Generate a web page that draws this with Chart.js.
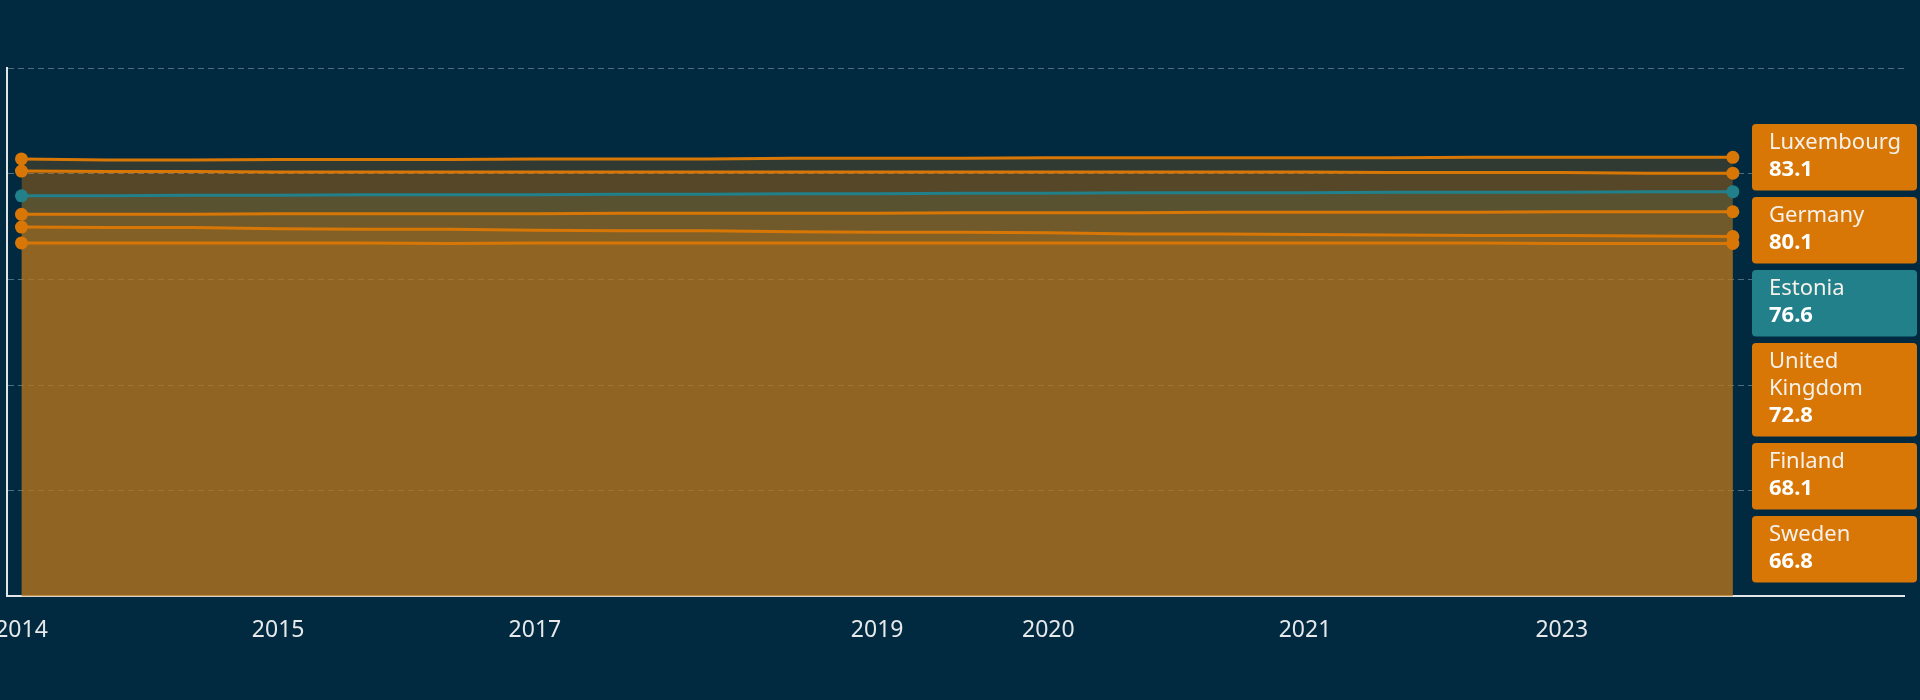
<!DOCTYPE html>
<html>
<head>
<meta charset="utf-8">
<script src="https://cdn.jsdelivr.net/npm/chart.js@4.4.1/dist/chart.umd.min.js"></script>
<style>
  html, body { margin: 0; padding: 0; background: #012a40; }
  #wrap { width: 1920px; height: 700px; }
</style>
</head>
<body>
<div id="wrap"><canvas id="lifeChart"></canvas></div>
<script>
// -- data --
const tickLabels = ['2014', '', '', '2015', '', '', '2017', '', '', '', '2019', '', '2020', '', '', '2021', '', '', '2023', '', ''];
const countries = ['Luxembourg', 'Germany', 'Estonia', 'United Kingdom', 'Finland', 'Sweden'];
const endValues = [83.1, 80.1, 76.6, 72.8, 68.1, 66.8];

const luxembourg = [82.8, 82.6, 82.6, 82.7, 82.7, 82.7, 82.8, 82.8, 82.8, 82.9, 82.9, 82.9, 83.0, 83.0, 83.0, 83.0, 83.0, 83.1, 83.1, 83.1, 83.1];
const germany    = [80.5, 80.4, 80.4, 80.3, 80.3, 80.3, 80.3, 80.3, 80.3, 80.3, 80.3, 80.3, 80.3, 80.3, 80.3, 80.3, 80.2, 80.2, 80.2, 80.1, 80.1];
const estonia    = [75.8, 75.8, 75.9, 75.9, 76.0, 76.0, 76.0, 76.1, 76.1, 76.2, 76.2, 76.3, 76.3, 76.4, 76.4, 76.4, 76.5, 76.5, 76.5, 76.6, 76.6];
const unitedKingdom = [72.3, 72.3, 72.3, 72.4, 72.4, 72.4, 72.4, 72.5, 72.5, 72.5, 72.5, 72.6, 72.6, 72.6, 72.7, 72.7, 72.7, 72.7, 72.8, 72.8, 72.8];
const finland    = [69.9, 69.8, 69.8, 69.6, 69.5, 69.5, 69.3, 69.2, 69.2, 69.0, 68.9, 68.9, 68.8, 68.6, 68.6, 68.5, 68.4, 68.3, 68.3, 68.2, 68.1];
const sweden     = [66.9, 66.9, 66.9, 66.9, 66.9, 66.8, 66.9, 66.9, 66.9, 66.9, 66.9, 66.9, 66.9, 66.9, 66.9, 66.9, 66.9, 66.9, 66.8, 66.8, 66.8];

const series = [luxembourg, germany, estonia, unitedKingdom, finland, sweden];

// -- styles --
const ORANGE = '#d97706';
const TEAL = '#21808a';
const lineColors = [ORANGE, ORANGE, TEAL, ORANGE, ORANGE, ORANGE];
const fillColors = ['rgba(217,119,6,0.22)', 'rgba(217,119,6,0.22)', 'rgba(33,128,138,0.22)',
                    'rgba(217,119,6,0.22)', 'rgba(217,119,6,0.22)', 'rgba(217,119,6,0.22)'];
const FONT = '"Noto Sans", "Open Sans", sans-serif';

const datasets = series.map((vals, k) => ({
  label: countries[k],
  data: vals.map((v, i) => ({ x: i, y: v })),
  borderColor: lineColors[k],
  backgroundColor: fillColors[k],
  pointBackgroundColor: lineColors[k],
  pointBorderWidth: 0,
  pointRadius: vals.map((v, i) => (i === 0 || i === vals.length - 1) ? 6.5 : 0),
  borderWidth: 3,
  fill: 'origin',
  tension: 0
}));

// end-of-line label boxes, pushed down so they don't overlap
const endLabels = {
  id: 'endLabels',
  afterDatasetsDraw(chart) {
    const ctx = chart.ctx;
    const x0 = 1752, boxW = 165, padL = 17, lineH = 27, gap = 6.5, maxTextW = 140;
    let prevBottom = -Infinity;
    ctx.save();
    chart.data.datasets.forEach((ds, k) => {
      const meta = chart.getDatasetMeta(k);
      const pt = meta.data[meta.data.length - 1];
      ctx.font = '22px ' + FONT;
      // wrap name
      const words = ds.label.split(' ');
      const lines = [];
      let cur = '';
      words.forEach(w => {
        const t = cur ? cur + ' ' + w : w;
        if (cur && ctx.measureText(t).width > maxTextW) { lines.push(cur); cur = w; }
        else cur = t;
      });
      lines.push(cur);
      const n = lines.length + 1;
      const h = 39.5 + lineH * (n - 1);
      let top = pt.y - h / 2;
      if (top < prevBottom + gap) top = prevBottom + gap;
      prevBottom = top + h;

      ctx.fillStyle = lineColors[k];
      ctx.beginPath();
      ctx.roundRect(x0, top, boxW, h, 4);
      ctx.fill();

      ctx.textBaseline = 'alphabetic';
      ctx.textAlign = 'left';
      ctx.fillStyle = '#f6f1ea';
      lines.forEach((ln, j) => ctx.fillText(ln, x0 + padL, top + 25 + lineH * j));
      ctx.font = 'bold 22px ' + FONT;
      ctx.fillStyle = '#ffffff';
      ctx.fillText(endValues[k].toFixed(1), x0 + padL, top + 25 + lineH * (n - 1));
    });
    ctx.restore();
  }
};

const tickIdx = tickLabels.map((t, i) => t ? i : -1).filter(i => i >= 0);

new Chart(document.getElementById('lifeChart').getContext('2d'), {
  type: 'line',
  data: { datasets: datasets },
  options: {
    responsive: true,
    maintainAspectRatio: false,
    animation: false,
    layout: { padding: { top: 68, left: 0, right: 16, bottom: 36 } },
    plugins: {
      legend: { display: false },
      tooltip: { enabled: false },
      filler: { drawTime: 'beforeDatasetsDraw' }
    },
    scales: {
      x: {
        type: 'linear',
        min: -0.175,
        max: 22,
        afterBuildTicks: axis => { axis.ticks = tickIdx.map(v => ({ value: v })); },
        afterFit: axis => { axis.paddingLeft = 0; axis.paddingRight = 0; },
        ticks: {
          autoSkip: false,
          maxRotation: 0,
          color: '#e6e8ea',
          font: { family: FONT, size: 23 },
          padding: 20,
          callback: v => tickLabels[v]
        },
        grid: { display: false, drawTicks: false },
        border: { color: '#e3e6e8', width: 2 }
      },
      y: {
        min: 0,
        max: 100,
        ticks: { display: false, stepSize: 20 },
        grid: { color: 'rgba(130,155,170,0.6)', drawTicks: false, lineWidth: 1 },
        border: { color: '#e3e6e8', width: 2, dash: [6, 4] }
      }
    }
  },
  plugins: [endLabels]
});
</script>
</body>
</html>
